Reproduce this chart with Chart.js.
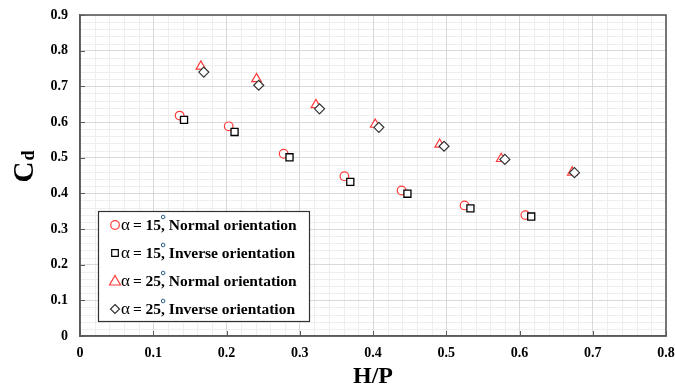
<!DOCTYPE html>
<html lang="en">
<head>
    <meta charset="UTF-8">
    <title>Cd vs H/P</title>
    <script src="https://cdn.jsdelivr.net/npm/chart.js"></script>
    <style>
      html, body { margin: 0; padding: 0; background: #fff; }
      #wrap { width: 675px; height: 385px; }
    </style>
</head>
<body>
    <div id="wrap">
        <canvas id="myChart" width="675" height="385"></canvas>
    </div>
      <script>
        // H/P and Cd for each crest angle / orientation
        const hp15n = [0.136, 0.203, 0.278, 0.361, 0.439, 0.525, 0.608];
        const cd15n = [0.618, 0.588, 0.511, 0.448, 0.408, 0.366, 0.339];
        const hp15i = [0.142, 0.211, 0.286, 0.369, 0.447, 0.533, 0.616];
        const cd15i = [0.606, 0.572, 0.501, 0.432, 0.399, 0.358, 0.335];
        const hp25n = [0.165, 0.241, 0.322, 0.403, 0.491, 0.575, 0.672];
        const cd25n = [0.756, 0.721, 0.648, 0.593, 0.537, 0.497, 0.459];
        const hp25i = [0.169, 0.244, 0.327, 0.408, 0.497, 0.580, 0.675];
        const cd25i = [0.740, 0.703, 0.637, 0.585, 0.532, 0.495, 0.458];

        const angles = ['15', '15', '25', '25'];
        const names = ['Normal orientation', 'Inverse orientation', 'Normal orientation', 'Inverse orientation'];
        const xTicks = [0, 0.1, 0.2, 0.3, 0.4, 0.5, 0.6, 0.7, 0.8];
        const yTicks = [0, 0.1, 0.2, 0.3, 0.4, 0.5, 0.6, 0.7, 0.8, 0.9];

        const RED = '#ff3b3b';
        const serif = '"Liberation Serif", "Times New Roman", serif';

        function toPts(xs, ys){
          return xs.map((x, i) => ({x: x, y: ys[i]}));
        }

        // small marker shapes for the legend box
        function marker(ctx, kind, x, y, color){
          ctx.save();
          ctx.strokeStyle = color;
          ctx.lineWidth = 1.2;
          ctx.fillStyle = '#fff';
          ctx.beginPath();
          if(kind === 'circle'){
            ctx.arc(x, y, 4.3, 0, Math.PI * 2);
          } else if(kind === 'rect'){
            ctx.rect(x - 3.3, y - 3.3, 6.6, 6.6);
          } else if(kind === 'triangle'){
            ctx.moveTo(x, y - 5.5);
            ctx.lineTo(x + 5.5, y + 4);
            ctx.lineTo(x - 5.5, y + 4);
            ctx.closePath();
          } else {
            ctx.moveTo(x, y - 4.5);
            ctx.lineTo(x + 4.5, y);
            ctx.lineTo(x, y + 4.5);
            ctx.lineTo(x - 4.5, y);
            ctx.closePath();
          }
          ctx.fill();
          ctx.stroke();
          ctx.restore();
        }

        const framePlugin = {
          id: 'frame',
          beforeDraw(chart){
            // minor grid every 0.02
            const ctx = chart.ctx;
            const a = chart.chartArea;
            const sx = chart.scales.x, sy = chart.scales.y;
            ctx.save();
            ctx.strokeStyle = '#eeeeee';
            ctx.lineWidth = 1;
            for(let i = 1; i < 40; i++){
              if(i % 5 === 0) continue;
              const px = Math.round(sx.getPixelForValue(i * 0.02)) + 0.5;
              ctx.beginPath(); ctx.moveTo(px, a.top); ctx.lineTo(px, a.bottom); ctx.stroke();
            }
            for(let i = 1; i < 45; i++){
              if(i % 5 === 0) continue;
              const py = Math.round(sy.getPixelForValue(i * 0.02)) + 0.5;
              ctx.beginPath(); ctx.moveTo(a.left, py); ctx.lineTo(a.right, py); ctx.stroke();
            }
            ctx.restore();
          },
          afterDraw(chart){
            const ctx = chart.ctx;
            const a = chart.chartArea;
            const sx = chart.scales.x, sy = chart.scales.y;
            ctx.save();
            // inward tick marks
            ctx.strokeStyle = '#595959';
            ctx.lineWidth = 1;
            xTicks.forEach(v => {
              const px = Math.round(sx.getPixelForValue(v)) + 0.5;
              ctx.beginPath(); ctx.moveTo(px, a.bottom); ctx.lineTo(px, a.bottom - 5); ctx.stroke();
            });
            yTicks.forEach(v => {
              const py = Math.round(sy.getPixelForValue(v)) + 0.5;
              ctx.beginPath(); ctx.moveTo(a.left, py); ctx.lineTo(a.left + 5, py); ctx.stroke();
            });
            // plot frame
            ctx.strokeStyle = '#5a5a5a';
            ctx.lineWidth = 1.6;
            ctx.strokeRect(a.left, a.top, a.right - a.left, a.bottom - a.top);

            // axis titles
            ctx.fillStyle = '#000';
            ctx.font = 'bold 24px ' + serif;
            ctx.textAlign = 'center';
            ctx.textBaseline = 'alphabetic';
            ctx.fillText('H/P', (a.left + a.right) / 2, 383);

            ctx.save();
            ctx.translate(33, 168);
            ctx.rotate(-Math.PI / 2);
            ctx.textAlign = 'left';
            ctx.font = 'bold 29px ' + serif;
            const cw = ctx.measureText('C').width;
            ctx.fillText('C', -cw / 2 - 4, 0);
            ctx.font = 'bold 18px ' + serif;
            ctx.fillText('d', cw / 2 - 3, 1);
            ctx.restore();

            // legend box
            const bx = 98, by = 211, bw = 211, bh = 110;
            ctx.fillStyle = '#fff';
            ctx.fillRect(bx, by, bw, bh);
            ctx.strokeStyle = '#333';
            ctx.lineWidth = 1.2;
            ctx.strokeRect(bx + 0.5, by + 0.5, bw, bh);

            chart.data.datasets.forEach((ds, i) => {
              const y = 225 + i * 28;
              marker(ctx, ds.pointStyle, 115, y, ds.borderColor);
              ctx.textAlign = 'left';
              ctx.textBaseline = 'alphabetic';
              ctx.fillStyle = '#000';
              let x = 121;
              const base = y + 5;
              ctx.font = '17px ' + serif;
              ctx.fillText('\u03b1', x, base);
              x += ctx.measureText('\u03b1').width + 3;
              ctx.font = 'bold 15.5px ' + serif;
              const head = '= ' + angles[i];
              ctx.fillText(head, x, base);
              x += ctx.measureText(head).width;
              ctx.fillText(', ' + names[i], x, base);
              // degree ring sits over the comma
              ctx.strokeStyle = '#2d5d8c';
              ctx.lineWidth = 1;
              ctx.beginPath();
              ctx.arc(x + 2, base - 13, 1.8, 0, Math.PI * 2);
              ctx.stroke();
            });
            ctx.restore();
          }
        };

        const ctx = document.getElementById('myChart');
        let configs = {
          type: 'scatter',
          data: {
            datasets: [
              { label: 'a15n', data: toPts(hp15n, cd15n), pointStyle: 'circle', borderColor: RED,
                backgroundColor: '#fff', pointRadius: 4.3, borderWidth: 1.2, order: 2 },
              { label: 'a15i', data: toPts(hp15i, cd15i), pointStyle: 'rect', borderColor: '#000',
                backgroundColor: '#fff', pointRadius: 5, borderWidth: 1.3, order: 1 },
              { label: 'a25n', data: toPts(hp25n, cd25n), pointStyle: 'triangle', borderColor: RED,
                backgroundColor: '#fff', pointRadius: 5.5, borderWidth: 1.2, order: 2 },
              { label: 'a25i', data: toPts(hp25i, cd25i), pointStyle: 'rectRot', borderColor: '#333',
                backgroundColor: '#fff', pointRadius: 5, borderWidth: 1.2, order: 1 }
            ]
          },
          options: {
            responsive: false,
            animation: false,
            events: [],
            layout: { autoPadding: false, padding: { top: 15, right: 9, left: 0, bottom: 0 } },
            plugins: { legend: { display: false }, tooltip: { enabled: false } },
            scales: {
              x: {
                type: 'linear', min: 0, max: 0.8,
                afterBuildTicks: s => { s.ticks = xTicks.map(v => ({value: v})); },
                afterFit: s => { s.height = 49; s.paddingLeft = 0; s.paddingRight = 0; },
                ticks: {
                  padding: 9, color: '#000', maxRotation: 0,
                  font: { family: serif, size: 14, weight: 'bold' },
                  callback: v => v === 0 ? '0' : v.toFixed(1)
                },
                grid: { color: '#d9d9d9', drawTicks: false },
                border: { color: '#5a5a5a', width: 1.6 }
              },
              y: {
                type: 'linear', min: 0, max: 0.9,
                afterBuildTicks: s => { s.ticks = yTicks.map(v => ({value: v})); },
                afterFit: s => { s.width = 80; s.paddingTop = 0; s.paddingBottom = 0; },
                ticks: {
                  padding: 12, color: '#000',
                  font: { family: serif, size: 14, weight: 'bold' },
                  callback: v => v === 0 ? '0' : v.toFixed(1)
                },
                grid: { color: '#d9d9d9', drawTicks: false },
                border: { color: '#5a5a5a', width: 1.6 }
              }
            }
          },
          plugins: [framePlugin]
        };
        let myChart = new Chart(ctx, configs);
      </script>
</body>
</html>
